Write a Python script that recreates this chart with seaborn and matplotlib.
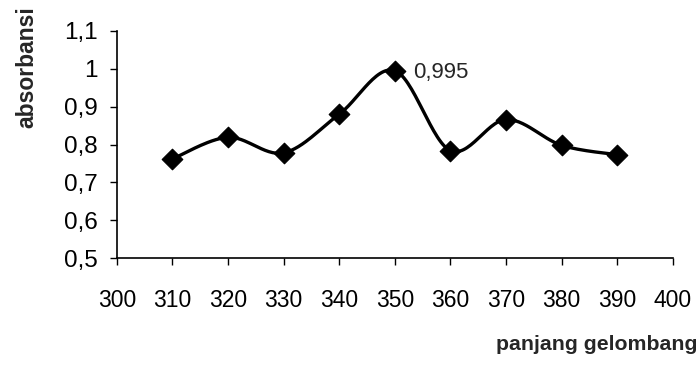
import numpy as np
import pandas as pd
import seaborn as sns
import matplotlib
matplotlib.use('Agg')
import matplotlib.pyplot as plt

# data
wavelength = [310, 320, 330, 340, 350, 360, 370, 380, 390]
absorbance = [0.762, 0.819, 0.778, 0.880, 0.995, 0.784, 0.866, 0.798, 0.773]
x_ticks = [300, 310, 320, 330, 340, 350, 360, 370, 380, 390, 400]
y_ticks = [0.5, 0.6, 0.7, 0.8, 0.9, 1.0, 1.1]
y_tick_labels = ['0,5', '0,6', '0,7', '0,8', '0,9', '1', '1,1']
peak_label = '0,995'


def smooth_curve(xs, ys, n=30):
    # Catmull-Rom spline through the points, like the smoothed line in Excel
    xs = np.asarray(xs, float)
    ys = np.asarray(ys, float)
    px = np.concatenate([[xs[0]], xs, [xs[-1]]])
    py = np.concatenate([[ys[0]], ys, [ys[-1]]])
    out_x, out_y = [], []
    for i in range(1, len(px) - 2):
        t = np.linspace(0, 1, n, endpoint=False)
        for p, out in ((px, out_x), (py, out_y)):
            p0, p1, p2, p3 = p[i - 1], p[i], p[i + 1], p[i + 2]
            out.extend(0.5 * ((2 * p1) + (-p0 + p2) * t
                              + (2 * p0 - 5 * p1 + 4 * p2 - p3) * t ** 2
                              + (-p0 + 3 * p1 - 3 * p2 + p3) * t ** 3))
    out_x.append(xs[-1])
    out_y.append(ys[-1])
    return np.array(out_x), np.array(out_y)


sns.set_theme(style='ticks')
plt.rcParams['font.family'] = ['Liberation Sans', 'DejaVu Sans']

fig = plt.figure(figsize=(7, 3.72), dpi=100)
ax = fig.add_axes([0.167, 0.306, 0.794, 0.611])

cx, cy = smooth_curve(wavelength, absorbance)
curve = pd.DataFrame({'x': cx, 'y': cy})
sns.lineplot(data=curve, x='x', y='y', ax=ax, color='black', linewidth=2.4,
             estimator=None, sort=False)
points = pd.DataFrame({'wavelength': wavelength, 'absorbance': absorbance})
sns.scatterplot(data=points, x='wavelength', y='absorbance', ax=ax,
                marker='D', s=110, color='black', edgecolor='black', zorder=3)

peak = int(np.argmax(absorbance))
ax.annotate(peak_label, (wavelength[peak], absorbance[peak]),
            xytext=(13, -1), textcoords='offset points', va='center',
            fontsize=16)

ax.set_xlim(300, 400)
ax.set_ylim(0.5, 1.1)
ax.set_xticks(x_ticks)
ax.set_xticklabels([str(v) for v in x_ticks])
ax.set_yticks(y_ticks)
ax.set_yticklabels(y_tick_labels)
ax.tick_params(axis='both', colors='black', length=5, width=1)
ax.tick_params(axis='x', pad=17, labelsize=16.5)
ax.tick_params(axis='y', pad=9, labelsize=17.5)
ax.set_xlabel('')
ax.set_ylabel('')
sns.despine(ax=ax)
for s in ('left', 'bottom'):
    ax.spines[s].set_color('black')
    ax.spines[s].set_linewidth(1.2)

fig.text(0.038, 0.82, 'absorbansi', rotation=90, fontsize=16.5,
         fontweight='bold', ha='center', va='center')
fig.text(0.996, 0.074, 'panjang gelombang', fontsize=15.3,
         fontweight='bold', ha='right', va='center')

fig.savefig('out.png', dpi=100)
